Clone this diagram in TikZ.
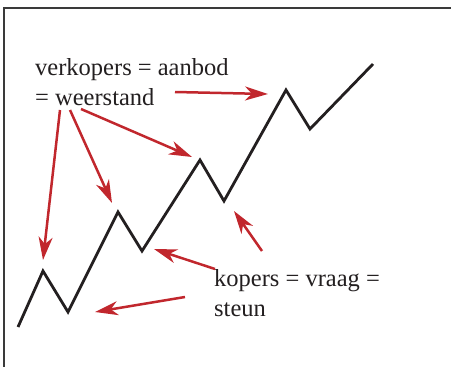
\documentclass[tikz,border=0pt]{standalone}
\usepackage{fontspec}
\setmainfont{Liberation Serif}
\usetikzlibrary{arrows.meta}
\definecolor{arrowred}{HTML}{C1272D}
\definecolor{ink}{HTML}{231F20}
\definecolor{framegray}{HTML}{3A3A3A}
\tikzset{
  redarrow/.style={draw=arrowred, line width=2.5pt, -{Stealth[length=23pt,width=14pt,inset=7pt]}},
  zig/.style={draw=ink, line width=2.8pt, line join=miter},
  lbl/.style={font=\fontsize{24.5}{30}\selectfont, text=ink, align=left, inner sep=0pt, anchor=north west}
}
\begin{document}
\begin{tikzpicture}[x=1pt,y=-1pt]
\useasboundingbox (0,0) rectangle (451,367);
% frame
\draw[framegray, line width=2.4pt] (4,370) -- (4,8) -- (455,8);
% zigzag vertices
\coordinate (p0) at (18,327);
\coordinate (p1) at (43,271);
\coordinate (p2) at (68,312);
\coordinate (p3) at (118,212);
\coordinate (p4) at (142,251);
\coordinate (p5) at (200,160);
\coordinate (p6) at (224,201);
\coordinate (p7) at (286,90);
\coordinate (p8) at (310,129);
\coordinate (p9) at (373,64);
\draw[zig] (p0) -- (p1) -- (p2) -- (p3) -- (p4) -- (p5) -- (p6) -- (p7) -- (p8) -- (p9);
% labels
\node[lbl] (sell) at (35,58.5) {verkopers = aanbod\\= weerstand};
\node[lbl] (buy) at (214,269.5) {kopers = vraag =\\steun};
% arrow tails and tips
\coordinate (s1) at (175,92);   \coordinate (t1) at (268,94);
\coordinate (s2) at (60,110);   \coordinate (t2) at (43,260);
\coordinate (s3) at (70,110);   \coordinate (t3) at (112,203);
\coordinate (s4) at (81,109);   \coordinate (t4) at (192,157);
\coordinate (s5) at (262,251);  \coordinate (t5) at (234,211);
\coordinate (s6) at (215,269);  \coordinate (t6) at (154,249);
\coordinate (s7) at (185,297);  \coordinate (t7) at (95,312);
\draw[redarrow] (s1) -- (t1);
\draw[redarrow] (s2) -- (t2);
\draw[redarrow] (s3) -- (t3);
\draw[redarrow] (s4) -- (t4);
\draw[redarrow] (s5) -- (t5);
\draw[redarrow] (s6) -- (t6);
\draw[redarrow] (s7) -- (t7);
\end{tikzpicture}
\end{document}
